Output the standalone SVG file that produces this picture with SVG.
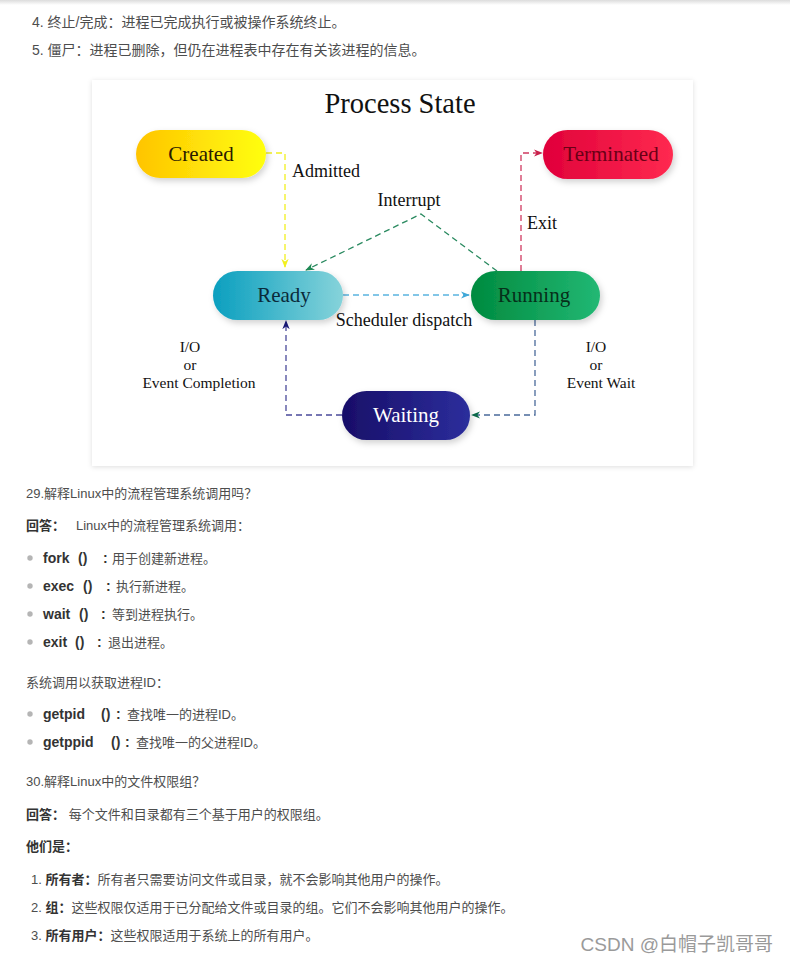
<svg xmlns="http://www.w3.org/2000/svg" width="790" height="963" viewBox="0 0 790 963">
<defs>
<linearGradient id="gCreated" x1="0" y1="0" x2="1" y2="0"><stop offset="0" stop-color="#ffc400"/><stop offset="1" stop-color="#ffff10"/></linearGradient>
<linearGradient id="gTerm" x1="0" y1="0" x2="1" y2="0"><stop offset="0" stop-color="#e0003a"/><stop offset="1" stop-color="#ff2a50"/></linearGradient>
<linearGradient id="gReady" x1="0" y1="0" x2="1" y2="0"><stop offset="0" stop-color="#0a9fbf"/><stop offset="1" stop-color="#86d3da"/></linearGradient>
<linearGradient id="gRun" x1="0" y1="0" x2="1" y2="0"><stop offset="0" stop-color="#008a3e"/><stop offset="1" stop-color="#22b874"/></linearGradient>
<linearGradient id="gWait" x1="0" y1="0" x2="1" y2="0"><stop offset="0" stop-color="#180e68"/><stop offset="1" stop-color="#2c2e9c"/></linearGradient>
<linearGradient id="gTop" x1="0" y1="0" x2="0" y2="1"><stop offset="0" stop-color="#dcdcdc"/><stop offset="1" stop-color="#ffffff"/></linearGradient>
<filter id="sh" x="-20%" y="-30%" width="140%" height="170%"><feDropShadow dx="2" dy="3" stdDeviation="3" flood-color="#000" flood-opacity="0.18"/></filter>
<filter id="card" x="-5%" y="-5%" width="110%" height="110%"><feDropShadow dx="0" dy="1" stdDeviation="2.5" flood-color="#000" flood-opacity="0.13"/></filter>
<marker id="aY" viewBox="0 0 10 10" refX="9" refY="5" markerWidth="7" markerHeight="7" orient="auto"><path d="M0,1 L10,5 L0,9 L3,5 z" fill="#f2f020"/></marker>
<marker id="aG" viewBox="0 0 10 10" refX="9" refY="5" markerWidth="7" markerHeight="7" orient="auto"><path d="M0,1 L10,5 L0,9 L3,5 z" fill="#1f8a55"/></marker>
<marker id="aB" viewBox="0 0 10 10" refX="9" refY="5" markerWidth="7" markerHeight="7" orient="auto"><path d="M0,1 L10,5 L0,9 L3,5 z" fill="#3fa8d8"/></marker>
<marker id="aR" viewBox="0 0 10 10" refX="9" refY="5" markerWidth="7" markerHeight="7" orient="auto"><path d="M0,1 L10,5 L0,9 L3,5 z" fill="#c8204a"/></marker>
<marker id="aW" viewBox="0 0 10 10" refX="9" refY="5" markerWidth="7" markerHeight="7" orient="auto"><path d="M0,1 L10,5 L0,9 L3,5 z" fill="#0a6a4a"/></marker>
<marker id="aN" viewBox="0 0 10 10" refX="9" refY="5" markerWidth="7" markerHeight="7" orient="auto"><path d="M0,1 L10,5 L0,9 L3,5 z" fill="#1a1a7a"/></marker>
</defs>
<style>
.t{font-family:"Liberation Sans","Noto Sans CJK SC",sans-serif;font-size:13px;fill:#4d4d4d}
.top{font-size:14px}
.b{font-weight:bold;fill:#333}
.f{font-size:14px}
.s{font-family:"Liberation Serif","DejaVu Serif",serif;fill:#111}
.n{font-family:"Liberation Serif","DejaVu Serif",serif;font-size:21px;text-anchor:middle;dominant-baseline:central}
.lbl{font-size:18px}
.sm{font-size:15.5px;text-anchor:middle}
.c{fill:none;stroke-width:1.3;stroke-dasharray:6 4}
.dot{fill:#b5b5b5}
</style>
<rect x="0" y="0" width="790" height="963" fill="#fff"/>
<rect x="0" y="0" width="790" height="5" fill="url(#gTop)"/>

<g id="text-top">
<text class="t top" x="32" y="27">4. 终止/完成：进程已完成执行或被操作系统终止。</text>
<text class="t top" x="32" y="55">5. 僵尸：进程已删除，但仍在进程表中存在有关该进程的信息。</text>
</g>

<rect x="92" y="80" width="601" height="386" fill="#fff" filter="url(#card)"/>
<text class="s" x="400" y="113" font-size="28.5" text-anchor="middle">Process State</text>

<g id="connectors">
<path class="c" d="M266,153 H285 V267" stroke="#f2f020" marker-end="url(#aY)"/>
<path class="c" d="M497,271 L421,214 L306,270" stroke="#2a8a60" marker-end="url(#aG)"/>
<path class="c" d="M343,295 H469" stroke="#5ab4e0" marker-end="url(#aB)"/>
<path class="c" d="M521,271 V153 H542" stroke="#d03a60" marker-end="url(#aR)"/>
<path class="c" d="M535,320 V415 H472" stroke="#4a6a9a" marker-end="url(#aW)"/>
<path class="c" d="M342,415 H286 V321" stroke="#4a4a9a" marker-end="url(#aN)"/>
</g>

<g id="labels">
<text class="s lbl" x="292" y="177">Admitted</text>
<text class="s lbl" x="409" y="206" text-anchor="middle">Interrupt</text>
<text class="s lbl" x="527" y="229">Exit</text>
<text class="s lbl" x="404" y="326" text-anchor="middle">Scheduler dispatch</text>
<text class="s sm" x="190" y="352">I/O</text>
<text class="s sm" x="190" y="370">or</text>
<text class="s sm" x="199" y="388">Event  Completion</text>
<text class="s sm" x="596" y="352">I/O</text>
<text class="s sm" x="596" y="370">or</text>
<text class="s sm" x="601" y="388">Event Wait</text>
</g>

<g id="created"><rect x="136" y="130" width="130" height="48" rx="24" fill="url(#gCreated)" filter="url(#sh)"/><text class="n" x="201" y="154" fill="#2a1a00">Created</text></g>
<g id="terminated"><rect x="543" y="130" width="130" height="49" rx="24.5" fill="url(#gTerm)" filter="url(#sh)"/><text class="n" x="611" y="154" fill="#6a0016">Terminated</text></g>
<g id="ready"><rect x="213" y="271" width="130" height="49" rx="24.5" fill="url(#gReady)" filter="url(#sh)"/><text class="n" x="284" y="295" fill="#0a2a3a">Ready</text></g>
<g id="running"><rect x="471" y="271" width="129" height="49" rx="24.5" fill="url(#gRun)" filter="url(#sh)"/><text class="n" x="534" y="295" fill="#06301a">Running</text></g>
<g id="waiting"><rect x="342" y="391" width="128" height="49" rx="24.5" fill="url(#gWait)" filter="url(#sh)"/><text class="n" x="406" y="415" fill="#ffffff">Waiting</text></g>

<g id="text-body">
<text class="t" x="26" y="498">29.解释Linux中的流程管理系统调用吗？</text>
<text class="t" x="26" y="530"><tspan class="b">回答：</tspan><tspan x="76">Linux中的流程管理系统调用：</tspan></text>
<circle class="dot" cx="30" cy="558" r="2.7"/>
<text class="t" x="43" y="563"><tspan class="b f">fork</tspan><tspan class="b f" x="78">()</tspan><tspan class="b f" x="103">:</tspan><tspan x="112">用于创建新进程。</tspan></text>
<circle class="dot" cx="30" cy="586" r="2.7"/>
<text class="t" x="43" y="591"><tspan class="b f">exec</tspan><tspan class="b f" x="83">()</tspan><tspan class="b f" x="106">:</tspan><tspan x="116">执行新进程。</tspan></text>
<circle class="dot" cx="30" cy="614" r="2.7"/>
<text class="t" x="43" y="619"><tspan class="b f">wait</tspan><tspan class="b f" x="79">()</tspan><tspan class="b f" x="101">:</tspan><tspan x="112">等到进程执行。</tspan></text>
<circle class="dot" cx="30" cy="642" r="2.7"/>
<text class="t" x="43" y="647"><tspan class="b f">exit</tspan><tspan class="b f" x="75">()</tspan><tspan class="b f" x="97">:</tspan><tspan x="108">退出进程。</tspan></text>
<text class="t" x="26" y="687">系统调用以获取进程ID：</text>
<circle class="dot" cx="30" cy="714" r="2.7"/>
<text class="t" x="43" y="719"><tspan class="b f">getpid</tspan><tspan class="b f" x="101">()</tspan><tspan class="b f" x="116">:</tspan><tspan x="127">查找唯一的进程ID。</tspan></text>
<circle class="dot" cx="30" cy="742" r="2.7"/>
<text class="t" x="43" y="747"><tspan class="b f">getppid</tspan><tspan class="b f" x="111">()</tspan><tspan class="b f" x="125">:</tspan><tspan x="136">查找唯一的父进程ID。</tspan></text>
<text class="t" x="26" y="786">30.解释Linux中的文件权限组？</text>
<text class="t" x="26" y="819"><tspan class="b">回答：</tspan> 每个文件和目录都有三个基于用户的权限组。</text>
<text class="t b" x="26" y="851">他们是：</text>
<text class="t" x="31" y="884">1. <tspan class="b">所有者：</tspan>所有者只需要访问文件或目录，就不会影响其他用户的操作。</text>
<text class="t" x="31" y="912">2. <tspan class="b">组：</tspan>这些权限仅适用于已分配给文件或目录的组。它们不会影响其他用户的操作。</text>
<text class="t" x="31" y="940">3. <tspan class="b">所有用户：</tspan>这些权限适用于系统上的所有用户。</text>
<text x="773" y="951" text-anchor="end" font-family="Liberation Sans,Noto Sans CJK SC,sans-serif" font-size="19" fill="#9a9a9a">CSDN @白帽子凯哥哥</text>
</g>
</svg>
